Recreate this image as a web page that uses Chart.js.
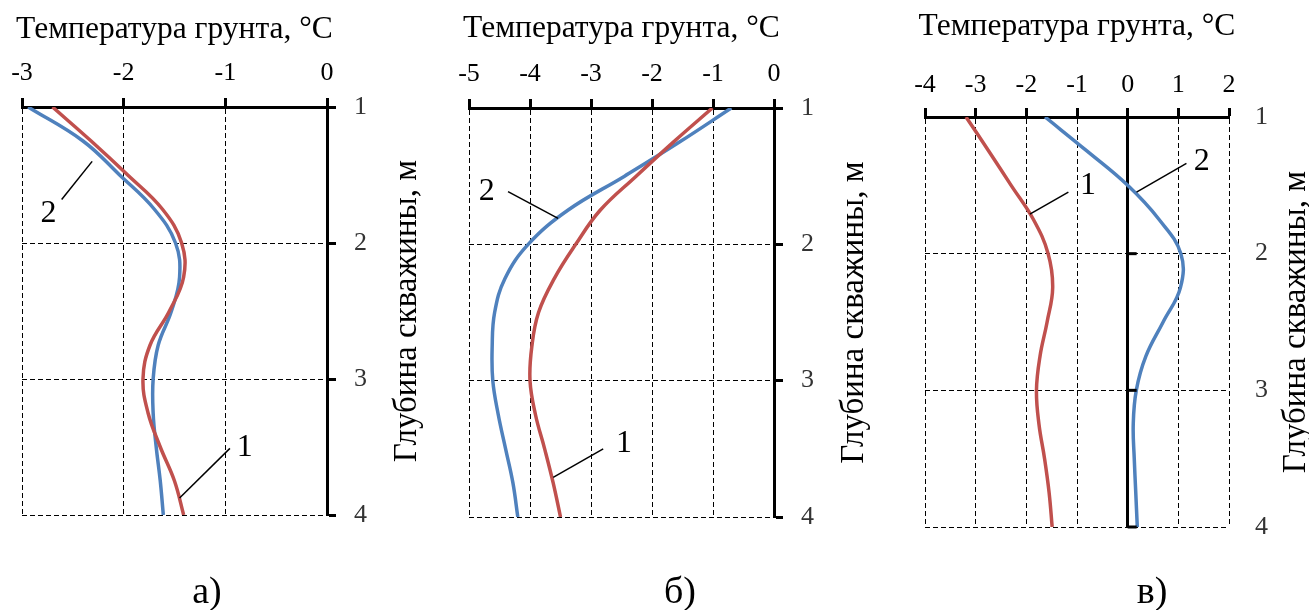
<!DOCTYPE html>
<html>
<head>
<meta charset="utf-8">
<script src="https://cdn.jsdelivr.net/npm/chart.js@4/dist/chart.umd.min.js"></script>
<style>
  html, body { margin: 0; padding: 0; background: #fff; }
  #wrap { position: relative; width: 1309px; height: 610px; }
  canvas { position: absolute; top: 0; }
</style>
</head>
<body>
<div id="wrap">
  <canvas id="chartA" width="430" height="610" style="left:0px"></canvas>
  <canvas id="chartB" width="440" height="610" style="left:430px"></canvas>
  <canvas id="chartC" width="439" height="610" style="left:870px"></canvas>
</div>
<script>
// depth of the borehole, m
const depths = [1, 1.25, 1.5, 1.75, 2, 2.25, 2.5, 2.75, 3, 3.25, 3.5, 3.75, 4];
const depthTicks = [1, 2, 3, 4];

// temperature ticks for each panel
const tempTicksA = [-3, -2, -1, 0];
const tempTicksB = [-5, -4, -3, -2, -1, 0];
const tempTicksC = [-4, -3, -2, -1, 0, 1, 2];

// ground temperature, °C  (curve 1 = red, curve 2 = blue)
const tempA1 = [-2.70, -2.32, -1.96, -1.62, -1.43, -1.41, -1.55, -1.74, -1.81, -1.76, -1.64, -1.50, -1.41];
const tempA2 = [-2.94, -2.40, -2.04, -1.70, -1.49, -1.45, -1.53, -1.66, -1.71, -1.71, -1.68, -1.64, -1.61];
const tempB1 = [-1.01, -1.65, -2.26, -2.85, -3.25, -3.60, -3.86, -3.97, -4.00, -3.91, -3.76, -3.62, -3.50];
const tempB2 = [-0.70, -1.55, -2.45, -3.38, -4.03, -4.41, -4.58, -4.62, -4.61, -4.52, -4.40, -4.28, -4.20];
const tempC1 = [-3.19, -2.74, -2.30, -1.86, -1.57, -1.48, -1.59, -1.73, -1.80, -1.75, -1.64, -1.55, -1.49];
const tempC2 = [-1.63, -0.80, 0.00, 0.62, 1.05, 1.04, 0.70, 0.36, 0.17, 0.11, 0.13, 0.16, 0.19];

const FONT = '"Liberation Serif", "Times New Roman", serif';
const RED = '#c0504d';
const BLUE = '#4f81bd';

// titles, captions and the "1"/"2" leader notes
const decor = {
  id: 'decor',
  afterDraw(chart, args, o) {
    const { ctx, chartArea: ca } = chart;
    const x = chart.scales.x, y = chart.scales.y;
    ctx.save();
    ctx.fillStyle = '#000';
    ctx.strokeStyle = '#000';
    ctx.textAlign = 'center';
    ctx.textBaseline = 'alphabetic';
    ctx.font = '31.5px ' + FONT;
    ctx.fillText('Температура грунта, °C', (ca.left + ca.right) / 2, o.titleY);
    ctx.font = '38px ' + FONT;
    ctx.fillText(o.caption, o.captionX, 603);

    ctx.save();
    ctx.font = '33px ' + FONT;
    ctx.translate(o.axisX, (ca.top + ca.bottom) / 2);
    ctx.rotate(-Math.PI / 2);
    ctx.fillText('Глубина скважины, м', 0, 0);
    ctx.restore();

    ctx.font = '32px ' + FONT;
    ctx.lineWidth = 1.5;
    ctx.textBaseline = 'middle';
    o.notes.forEach(n => {
      ctx.beginPath();
      ctx.moveTo(x.getPixelForValue(n.from[0]), y.getPixelForValue(n.from[1]));
      ctx.lineTo(x.getPixelForValue(n.to[0]), y.getPixelForValue(n.to[1]));
      ctx.stroke();
      ctx.fillText(n.text, x.getPixelForValue(n.at[0]), y.getPixelForValue(n.at[1]) + 2);
    });

    if (o.zeroTicks) {
      ctx.lineWidth = 3;
      const x0 = x.getPixelForValue(0);
      depthTicks.slice(1).forEach(d => {
        const py = y.getPixelForValue(d);
        ctx.beginPath();
        ctx.moveTo(x0, py);
        ctx.lineTo(x0 + 9, py);
        ctx.stroke();
      });
    }
    ctx.restore();
  }
};

function makeChart(id, xTicks, red, blue, cfg) {
  const isZero = c => c.tick && c.tick.value === 0 && cfg.zeroLine;
  return new Chart(document.getElementById(id), {
    type: 'line',
    data: {
      datasets: [
        { label: '1', data: depths.map((d, i) => ({ x: red[i], y: d })), borderColor: RED },
        { label: '2', data: depths.map((d, i) => ({ x: blue[i], y: d })), borderColor: BLUE }
      ]
    },
    plugins: [decor],
    options: {
      responsive: false,
      animation: false,
      devicePixelRatio: 1,
      layout: { padding: { left: cfg.left, top: 0, right: 0, bottom: cfg.bottom } },
      elements: {
        point: { radius: 0 },
        line: { tension: 0.4, borderWidth: 3.5, fill: false }
      },
      plugins: {
        legend: { display: false },
        tooltip: { enabled: false },
        decor: cfg.decor
      },
      scales: {
        x: {
          type: 'linear',
          position: 'top',
          min: xTicks[0],
          max: xTicks[xTicks.length - 1],
          afterBuildTicks: s => { s.ticks = xTicks.map(v => ({ value: v })); },
          afterFit: s => { s.height = cfg.top; },
          ticks: { color: '#000', padding: cfg.xPad, font: { family: FONT, size: 26 } },
          grid: {
            color: '#000',
            lineWidth: c => isZero(c) ? 3 : 1,
            tickLength: 9, tickWidth: 3, tickColor: '#000'
          },
          border: { display: true, color: '#000', width: 3, dash: c => isZero(c) ? [] : [5, 3] }
        },
        y: {
          type: 'linear',
          position: 'right',
          reverse: true,
          min: depthTicks[0],
          max: depthTicks[depthTicks.length - 1],
          afterBuildTicks: s => { s.ticks = depthTicks.map(v => ({ value: v })); },
          afterFit: s => { s.width = cfg.right; },
          ticks: { color: '#333', padding: cfg.yPad, font: { family: FONT, size: 26 } },
          grid: {
            color: '#000', lineWidth: 1,
            drawTicks: !cfg.zeroLine,
            tickLength: 9, tickWidth: 3, tickColor: '#000'
          },
          border: { display: !cfg.zeroLine, color: '#000', width: 3, dash: [5, 3] }
        }
      }
    }
  });
}

makeChart('chartA', tempTicksA, tempA1, tempA2, {
  left: 22, top: 107, right: 103, bottom: 95, xPad: 9, yPad: 18, zeroLine: false,
  decor: {
    titleY: 38, caption: 'а)', captionX: 207, axisX: 416,
    notes: [
      { text: '2', at: [-2.74, 1.77], from: [-2.61, 1.68], to: [-2.31, 1.40] },
      { text: '1', at: [-0.81, 3.49], from: [-0.955, 3.51], to: [-1.45, 3.875] }
    ]
  }
});

makeChart('chartB', tempTicksB, tempB1, tempB2, {
  left: 39, top: 108, right: 96, bottom: 93, xPad: 9, yPad: 18, zeroLine: false,
  decor: {
    titleY: 37, caption: 'б)', captionX: 250, axisX: 433,
    notes: [
      { text: '2', at: [-4.71, 1.60], from: [-4.36, 1.614], to: [-3.54, 1.81] },
      { text: '1', at: [-2.46, 3.45], from: [-2.80, 3.50], to: [-3.62, 3.71] }
    ]
  }
});

makeChart('chartC', tempTicksC, tempC1, tempC2, {
  left: 55, top: 117, right: 80, bottom: 83, xPad: 7, yPad: 26, zeroLine: true,
  decor: {
    titleY: 35, caption: 'в)', captionX: 282, axisX: 435, zeroTicks: true,
    notes: [
      { text: '2', at: [1.46, 1.31], from: [1.16, 1.34], to: [0.175, 1.55] },
      { text: '1', at: [-0.785, 1.49], from: [-1.17, 1.55], to: [-1.93, 1.71] }
    ]
  }
});
</script>
</body>
</html>
